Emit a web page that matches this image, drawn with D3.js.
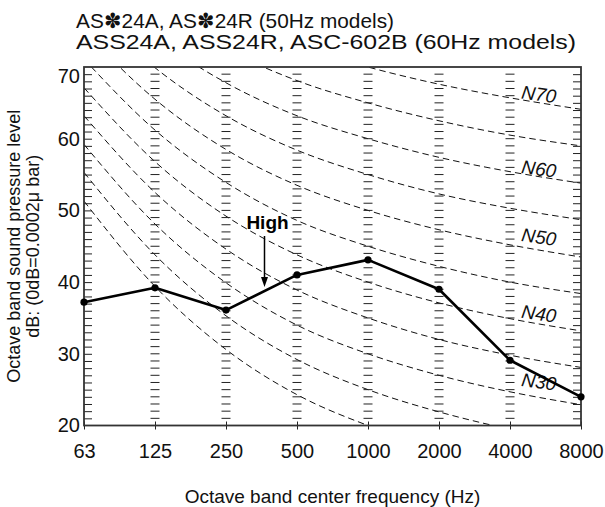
<!DOCTYPE html>
<html>
<head>
<meta charset="utf-8">
<script src="https://cdn.jsdelivr.net/npm/d3@7"></script>
<style>
  html, body { margin: 0; padding: 0; background: #fff; }
  svg { display: block; font-family: "Liberation Sans", Arial, Helvetica, sans-serif; }
</style>
</head>
<body>
<svg id="chart" width="605" height="507"></svg>
<script>
// Octave band centre frequencies (Hz) and the measured sound pressure levels (dB)
const frequencies = ["63", "125", "250", "500", "1000", "2000", "4000", "8000"];
const levelHigh = [37.2, 39.2, 36.1, 41.0, 43.1, 39.0, 29.1, 24.0];

// Noise rating curves, level per octave band (dB)
const n20 = [51.3, 39.4, 30.6, 24.3, 20.0, 16.8, 14.4, 12.6];
const n25 = [55.3, 43.8, 35.3, 29.2, 25.0, 21.9, 19.5, 17.8];
const n30 = [59.2, 48.1, 39.9, 34.0, 30.0, 27.0, 24.7, 22.9];
const n35 = [63.2, 52.5, 44.6, 38.9, 35.0, 32.0, 29.8, 28.1];
const n40 = [67.1, 56.8, 49.2, 43.8, 40.0, 37.1, 34.9, 33.2];
const n45 = [71.1, 61.2, 53.9, 48.6, 45.0, 42.2, 40.0, 38.4];
const n50 = [75.0, 65.5, 58.5, 53.5, 50.0, 47.3, 45.2, 43.5];
const n55 = [79.0, 69.9, 63.2, 58.4, 55.0, 52.3, 50.3, 48.7];
const n60 = [82.9, 74.2, 67.8, 63.2, 60.0, 57.4, 55.4, 53.8];
const n65 = [86.9, 78.6, 72.5, 68.1, 65.0, 62.5, 60.5, 59.0];
const n70 = [90.8, 82.9, 77.1, 73.0, 70.0, 67.6, 65.7, 64.1];
const nrCurves = [n20, n25, n30, n35, n40, n45, n50, n55, n60, n65, n70];

// Curve labels and the level each label sits on at the right side
const nrLabels = ["N30", "N40", "N50", "N60", "N70"];
const nrLabelLevels = [26.1, 35.6, 46.3, 55.8, 66.2];

const yTicks = [20, 30, 40, 50, 60, 70];
const titleLines = ["AS\u273D24A, AS\u273D24R (50Hz models)", "ASS24A, ASS24R, ASC-602B (60Hz models)"];
const yTitleLines = ["Octave band sound pressure level", "dB:  (0dB=0.0002\u03BC bar)"];
const xTitle = "Octave band center frequency (Hz)";

const svg = d3.select("#chart");
const plotLeft = 84, plotRight = 581, plotTop = 67, plotBottom = 425.5;

const x = d3.scalePoint().domain(frequencies).range([plotLeft, plotRight]);
const y = d3.scaleLinear().domain([20, 70]).range([plotBottom, plotTop]);

// Title, both lines set slightly wide
const titles = svg.append("g").attr("font-size", 21).attr("fill", "#111");
titles.append("text").attr("x", 76).attr("y", 28)
  .attr("textLength", 318).attr("lengthAdjust", "spacingAndGlyphs").text(titleLines[0]);
titles.append("text").attr("x", 76).attr("y", 49)
  .attr("textLength", 500).attr("lengthAdjust", "spacingAndGlyphs").text(titleLines[1]);

// Clip region for the rating curves
svg.append("defs").append("clipPath").attr("id", "plotClip")
  .append("rect").attr("x", plotLeft).attr("y", plotTop)
  .attr("width", plotRight - plotLeft).attr("height", plotBottom - plotTop);

// Rating curves (dashed)
const curveLine = d3.line()
  .x((d, i) => x(frequencies[i]))
  .y(d => y(d))
  .curve(d3.curveMonotoneX);
svg.append("g").attr("clip-path", "url(#plotClip)")
  .selectAll("path").data(nrCurves).join("path")
  .attr("d", curveLine)
  .attr("fill", "none").attr("stroke", "#111").attr("stroke-width", 1)
  .attr("stroke-dasharray", "6.5,4");

// Ladder ticks along each inner frequency line (1 dB steps)
const dbSteps = d3.range(21, 70);
const inner = frequencies.slice(1, -1);
const ladder = svg.append("g").attr("stroke", "#222").attr("stroke-width", 1);
inner.forEach(f => {
  ladder.append("g").selectAll("line").data(dbSteps).join("line")
    .attr("x1", x(f) - 4.5).attr("x2", x(f) + 4.5)
    .attr("y1", d => y(d)).attr("y2", d => y(d));
});

// Left and right axes with inward minor ticks
const leftAxis = d3.axisLeft(y).tickValues(dbSteps).tickSize(-8).tickFormat("");
const gl = svg.append("g").attr("transform", `translate(${plotLeft},0)`).call(leftAxis);
gl.select(".domain").remove();
gl.selectAll(".tick line").attr("stroke", "#222");

const rightAxis = d3.axisRight(y).tickValues(dbSteps).tickSize(-8).tickFormat("");
const gr = svg.append("g").attr("transform", `translate(${plotRight},0)`).call(rightAxis);
gr.select(".domain").remove();
gr.selectAll(".tick line").attr("stroke", "#222");

// Y tick labels
const yLab = d3.axisLeft(y).tickValues(yTicks).tickSize(0).tickPadding(4).tickFormat(d3.format("d"));
const gyl = svg.append("g").attr("transform", `translate(${plotLeft},0)`).call(yLab);
gyl.select(".domain").remove();
gyl.selectAll("text").attr("font-size", 20).attr("font-family", "Liberation Sans, Arial, sans-serif").attr("fill", "#111");
gyl.selectAll(".tick").filter(d => d === 70).select("text").attr("dy", "0.75em");

// X axis
const xAxis = d3.axisBottom(x).tickSize(4).tickPadding(14);
const gx = svg.append("g").attr("transform", `translate(0,${plotBottom})`).call(xAxis);
gx.select(".domain").remove();
gx.selectAll(".tick line").attr("stroke", "#222").attr("y1", -4).attr("y2", 4);
gx.selectAll("text").attr("font-size", 20).attr("font-family", "Liberation Sans, Arial, sans-serif").attr("fill", "#111");

// Frame
svg.append("rect").attr("x", plotLeft).attr("y", plotTop)
  .attr("width", plotRight - plotLeft).attr("height", plotBottom - plotTop)
  .attr("fill", "none").attr("stroke", "#333").attr("stroke-width", 1.8);

// Curve labels
svg.append("g").selectAll("text").data(nrLabels).join("text")
  .attr("transform", (d, i) => `translate(${x("4000") + 29},${y(nrLabelLevels[i])}) rotate(8)`)
  .attr("text-anchor", "middle").attr("dy", "0.35em")
  .attr("font-size", 19).attr("font-style", "italic").attr("fill", "#111")
  .text(d => d);

// Measured level line
const levelLine = d3.line().x((d, i) => x(frequencies[i])).y(d => y(d));
svg.append("path").datum(levelHigh).attr("d", levelLine)
  .attr("fill", "none").attr("stroke", "#000").attr("stroke-width", 2.6).attr("stroke-linejoin", "round");
svg.append("g").selectAll("circle").data(levelHigh).join("circle")
  .attr("cx", (d, i) => x(frequencies[i])).attr("cy", d => y(d)).attr("r", 3.6).attr("fill", "#000");

// "High" annotation with arrow
const arrowX = (x("250") + x("500")) / 2 + 3;
svg.append("text").attr("x", arrowX + 3).attr("y", 229).attr("text-anchor", "middle")
  .attr("font-size", 19).attr("font-weight", "bold").attr("fill", "#000").text("High");
svg.append("line").attr("x1", arrowX).attr("x2", arrowX).attr("y1", 236).attr("y2", 279)
  .attr("stroke", "#000").attr("stroke-width", 1.5);
svg.append("path").attr("d", `M${arrowX - 3.5},277 L${arrowX + 3.5},277 L${arrowX},287 Z`).attr("fill", "#000");

// Axis titles
svg.append("text").attr("x", (plotLeft + plotRight) / 2).attr("y", 503).attr("text-anchor", "middle")
  .attr("font-size", 19).attr("fill", "#111").text(xTitle);
svg.append("g").attr("transform", `translate(0,${(plotTop + plotBottom) / 2}) rotate(-90)`)
  .selectAll("text").data(yTitleLines).join("text")
  .attr("x", 0).attr("y", (d, i) => 20 + i * 19).attr("text-anchor", "middle")
  .attr("font-size", 18).attr("fill", "#111").text(d => d);
</script>
</body>
</html>
